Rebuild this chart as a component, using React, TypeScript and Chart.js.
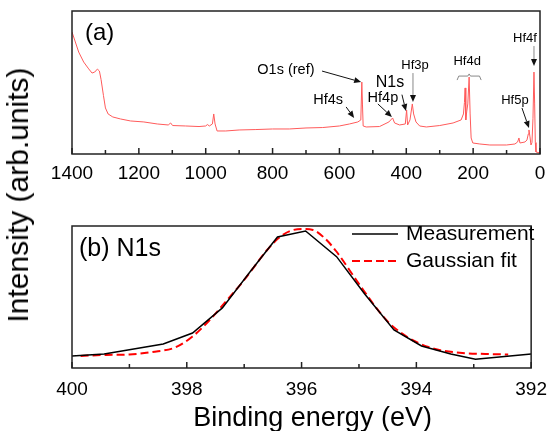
import React, { useEffect, useRef } from "react";
import { Chart, registerables } from "chart.js";

Chart.register(...registerables);

const FONT = "'Liberation Sans', Arial, Helvetica, sans-serif";

// ---- Panel (a): survey spectrum ----
const surveyEnergy = [
  1400, 1392, 1380, 1365, 1350, 1340, 1332, 1324, 1318, 1313, 1306, 1300, 1292, 1278, 1255, 1225,
  1185, 1145, 1112, 1105, 1099, 1060, 1020, 1000, 995, 989, 980, 976, 972, 966, 940, 900, 850, 800,
  750, 700, 650, 600, 570, 545, 536, 533, 531, 529, 520, 480, 452, 441, 435, 420, 403, 399, 396, 389,
  382, 378, 371, 360, 340, 300, 260, 236, 229, 226, 224, 222, 219, 216, 212, 209, 206, 201, 180, 150,
  100, 75, 67, 63, 60, 45, 39, 35, 33, 30, 27, 24, 21, 18, 16, 14, 12, 0,
];
const surveyIntensity = [
  85.3, 79.7, 71.3, 64.3, 59.5, 56.6, 57.3, 59.4, 58, 52, 41, 32.2, 28, 25.9, 24.5, 23.1,
  22.4, 21, 20.3, 21.7, 19.9, 19.6, 19.2, 19.6, 20.6, 19.6, 21, 28, 21, 16.1, 16.1, 16.8, 17.1, 17.5,
  17.5, 18.2, 18.5, 19.6, 21, 22.4, 23.8, 50.3, 34.3, 19.6, 18.9, 19.2, 22.4, 25.2, 21.7, 20.3, 21, 30.8, 20.3, 23.8,
  35, 28, 22.4, 19.6, 18.9, 19.9, 21.7, 23.8, 28, 36, 46.2, 23.8, 30, 35, 53.8, 28, 11.2, 7.7, 7, 6.3,
  6.3, 7, 8.4, 11.2, 7.7, 8.4, 9.8, 14, 16.8, 12, 6.3, 8, 25, 57.3, 35, 8, 1.4, 0.7,
];

// peak labels of panel (a): text position and arrow in data units (eV, intensity)
const surveyLabels = [
  { text: "O1s (ref)", at: [760, 58.7], size: 14.5, from: [652, 58], to: [535, 50.3], shaft: "#111" },
  { text: "Hf4s", at: [634, 37.8], size: 14.5, from: [580, 32.9], to: [556, 25.2], shaft: "#111" },
  { text: "Hf4p", at: [470, 39.2], size: 14.5, from: [485, 35], to: [443, 25.9], shaft: "#111" },
  { text: "N1s", at: [449, 49.7], size: 16, from: [413, 41.5], to: [401, 30.1], shaft: "#111" },
  { text: "Hf3p", at: [374, 62.2], size: 13, from: [380, 56.6], to: [380, 36.4], shaft: "#888" },
  { text: "Hf4d", at: [218, 65], size: 13, from: null, to: null, shaft: "#888" },
  { text: "Hf4f", at: [45, 81.1], size: 13, from: [18, 75.5], to: [18, 61.5], shaft: "#888" },
  { text: "Hf5p", at: [75, 37.8], size: 13, from: [54, 32.2], to: [33, 18.2], shaft: "#111" },
];
// curly bracket over the Hf4d doublet (eV, intensity)
const hf4dBracket = [
  [248, 51.7], [243, 54.5], [216, 54.5], [212, 56], [208, 54.5], [181, 54.5], [176, 51.7],
];

// ---- Panel (b): N1s ----
const n1sMeasEnergy = [400.0, 399.44, 398.41, 397.9, 397.38, 396.9, 396.42, 395.93, 395.39, 394.9, 394.39, 393.91, 393.4, 392.97, 392.0];
const n1sMeasIntensity = [8.5, 9.9, 16.9, 24.6, 42.3, 67.6, 92.3, 96.5, 78.4, 52.1, 26.8, 15.5, 9.9, 6.1, 9.9];

const n1sFitEnergy = [399.85, 399.4, 399.0, 398.6, 398.2, 397.9, 397.6, 397.4, 397.0, 396.6, 396.4, 396.2, 396.0, 395.8, 395.6, 395.4, 395.0, 394.6, 394.4, 394.0, 393.6, 393.2, 392.8, 392.4];
const n1sFitIntensity = [8.5, 9.2, 9.5, 11.3, 14.5, 22.2, 33.8, 43, 62, 83.1, 91.5, 96.5, 97.9, 97.2, 91.5, 82.4, 59.2, 37.3, 28.9, 18.3, 12.7, 10.6, 9.9, 9.5];

const xTitle = "Binding energy (eV)";
const yTitle = "Intensity (arb.units)";

function pts(xs: number[], ys: number[]) {
  return xs.map((x, i) => ({ x, y: ys[i] }));
}

function frameTicks(major: number, minor: number) {
  return {
    id: "frameTicks",
    afterDatasetsDraw(chart: any) {
      const { ctx, chartArea: a } = chart;
      const x = chart.scales.x;
      ctx.save();
      ctx.strokeStyle = "#222";
      ctx.lineWidth = 1.5;
      const n = Math.round((x.max - x.min) / minor);
      for (let i = 0; i <= n; i++) {
        const v = x.min + i * minor;
        const px = x.getPixelForValue(v);
        const r = v / major;
        const isMajor = Math.abs(r - Math.round(r)) < 1e-6;
        const len = isMajor ? 6 : 4;
        ctx.beginPath();
        ctx.moveTo(px, a.bottom);
        ctx.lineTo(px, a.bottom - len);
        ctx.stroke();
      }
      ctx.strokeRect(a.left, a.top, a.right - a.left, a.bottom - a.top);
      ctx.restore();
    },
  };
}

function drawArrow(ctx: CanvasRenderingContext2D, x1: number, y1: number, x2: number, y2: number, shaft: string) {
  const ang = Math.atan2(y2 - y1, x2 - x1);
  const hl = 7, hw = 3;
  const bx = x2 - hl * Math.cos(ang), by = y2 - hl * Math.sin(ang);
  ctx.strokeStyle = shaft;
  ctx.lineWidth = 1;
  ctx.beginPath();
  ctx.moveTo(x1, y1);
  ctx.lineTo(bx, by);
  ctx.stroke();
  ctx.fillStyle = "#111";
  ctx.beginPath();
  ctx.moveTo(x2, y2);
  ctx.lineTo(bx + hw * Math.sin(ang), by - hw * Math.cos(ang));
  ctx.lineTo(bx - hw * Math.sin(ang), by + hw * Math.cos(ang));
  ctx.closePath();
  ctx.fill();
}

const surveyAnnotations = {
  id: "surveyAnnotations",
  afterDraw(chart: any) {
    const { ctx, chartArea: a } = chart;
    const sx = chart.scales.x, sy = chart.scales.y;
    const X = (v: number) => sx.getPixelForValue(v);
    const Y = (v: number) => sy.getPixelForValue(v);
    ctx.save();
    ctx.fillStyle = "#000";
    ctx.textBaseline = "middle";
    ctx.textAlign = "left";
    ctx.font = `24px ${FONT}`;
    ctx.fillText("(a)", a.left + 13, a.top + 22);
    ctx.textAlign = "center";
    for (const l of surveyLabels) {
      ctx.fillStyle = "#000";
      ctx.font = `${l.size}px ${FONT}`;
      ctx.fillText(l.text, X(l.at[0]), Y(l.at[1]));
      if (l.from && l.to) {
        drawArrow(ctx, X(l.from[0]), Y(l.from[1]), X(l.to[0]), Y(l.to[1]), l.shaft);
      }
    }
    ctx.strokeStyle = "#888";
    ctx.lineWidth = 1;
    ctx.beginPath();
    hf4dBracket.forEach((p, i) => {
      const px = X(p[0]), py = Y(p[1]);
      if (i === 0) ctx.moveTo(px, py);
      else ctx.lineTo(px, py);
    });
    ctx.stroke();
    ctx.restore();
  },
};

const n1sDecor = {
  id: "n1sDecor",
  afterDraw(chart: any) {
    const { ctx, chartArea: a } = chart;
    ctx.save();
    ctx.fillStyle = "#000";
    ctx.textBaseline = "middle";
    ctx.textAlign = "left";
    ctx.font = `25px ${FONT}`;
    ctx.fillText("(b) N1s", a.left + 7, a.top + 23);
    // legend
    const ds = chart.data.datasets;
    const lx0 = a.left + 280, lx1 = a.left + 326, tx = a.left + 334;
    ds.forEach((d: any, i: number) => {
      const y = a.top + 8 + i * 27;
      ctx.strokeStyle = d.borderColor;
      ctx.lineWidth = d.borderWidth;
      ctx.setLineDash(d.borderDash || []);
      ctx.beginPath();
      ctx.moveTo(lx0, y);
      ctx.lineTo(lx1, y);
      ctx.stroke();
      ctx.setLineDash([]);
      ctx.font = `21px ${FONT}`;
      ctx.fillStyle = "#000";
      ctx.fillText(d.label, tx, y);
    });
    // axis title
    ctx.textAlign = "center";
    ctx.font = `27px ${FONT}`;
    ctx.fillText(xTitle, (a.left + a.right) / 2 + 11, a.bottom + 51);
    ctx.restore();
  },
};

const plainTick = (v: any) => String(v);

export default function App() {
  const c1 = useRef<HTMLCanvasElement>(null);
  const c2 = useRef<HTMLCanvasElement>(null);

  useEffect(() => {
    Chart.defaults.font.family = FONT;
    Chart.defaults.color = "#000";

    const ch1 = new Chart(c1.current as HTMLCanvasElement, {
      type: "line",
      data: {
        datasets: [
          {
            label: "Survey",
            data: pts(surveyEnergy, surveyIntensity),
            borderColor: "#ff5a5a",
            borderWidth: 1,
            pointRadius: 0,
            tension: 0,
          },
        ],
      },
      options: {
        responsive: false,
        animation: false,
        devicePixelRatio: 1,
        layout: { padding: { left: 72, right: 17, top: 11, bottom: 0 } },
        plugins: { legend: { display: false }, tooltip: { enabled: false } },
        scales: {
          x: {
            type: "linear",
            reverse: true,
            min: 0,
            max: 1400,
            afterFit: (s: any) => {
              s.height = 36;
            },
            grid: { display: false, drawTicks: false },
            border: { display: false },
            ticks: { stepSize: 200, color: "#000", font: { size: 19 }, padding: 8, maxRotation: 0, autoSkip: false, callback: plainTick },
          },
          y: { display: false, min: 0, max: 100 },
        },
      } as any,
      plugins: [frameTicks(200, 100), surveyAnnotations],
    });

    const ch2 = new Chart(c2.current as HTMLCanvasElement, {
      type: "line",
      data: {
        datasets: [
          {
            label: "Measurement",
            data: pts(n1sMeasEnergy, n1sMeasIntensity),
            borderColor: "#000",
            borderWidth: 1.5,
            pointRadius: 0,
            tension: 0,
          },
          {
            label: "Gaussian fit",
            data: pts(n1sFitEnergy, n1sFitIntensity),
            borderColor: "#ff0000",
            borderWidth: 2,
            borderDash: [8, 4],
            pointRadius: 0,
            cubicInterpolationMode: "monotone",
          },
        ],
      },
      options: {
        responsive: false,
        animation: false,
        devicePixelRatio: 1,
        layout: { padding: { left: 72, right: 17, top: 31, bottom: 0 } },
        plugins: { legend: { display: false }, tooltip: { enabled: false } },
        scales: {
          x: {
            type: "linear",
            reverse: true,
            min: 392,
            max: 400,
            afterFit: (s: any) => {
              s.height = 63;
            },
            grid: { display: false, drawTicks: false },
            border: { display: false },
            ticks: { stepSize: 2, color: "#000", font: { size: 19 }, padding: 10, maxRotation: 0, autoSkip: false, callback: plainTick },
          },
          y: { display: false, min: 0, max: 100 },
        },
      } as any,
      plugins: [frameTicks(2, 1), n1sDecor],
    });

    return () => {
      ch1.destroy();
      ch2.destroy();
    };
  }, []);

  return (
    <div
      style={{
        position: "fixed",
        left: 0,
        top: 0,
        width: 557,
        height: 431,
        background: "#fff",
        overflow: "hidden",
      }}
    >
      <canvas ref={c1} width={557} height={190} style={{ position: "absolute", left: 0, top: 0 }} />
      <canvas ref={c2} width={557} height={236} style={{ position: "absolute", left: 0, top: 195 }} />
      <div
        style={{
          position: "absolute",
          left: 18,
          top: 195,
          transform: "translate(-50%, -50%) rotate(-90deg)",
          whiteSpace: "nowrap",
          fontFamily: FONT,
          fontSize: 30,
          lineHeight: 1,
          color: "#000",
        }}
      >
        {yTitle}
      </div>
    </div>
  );
}
